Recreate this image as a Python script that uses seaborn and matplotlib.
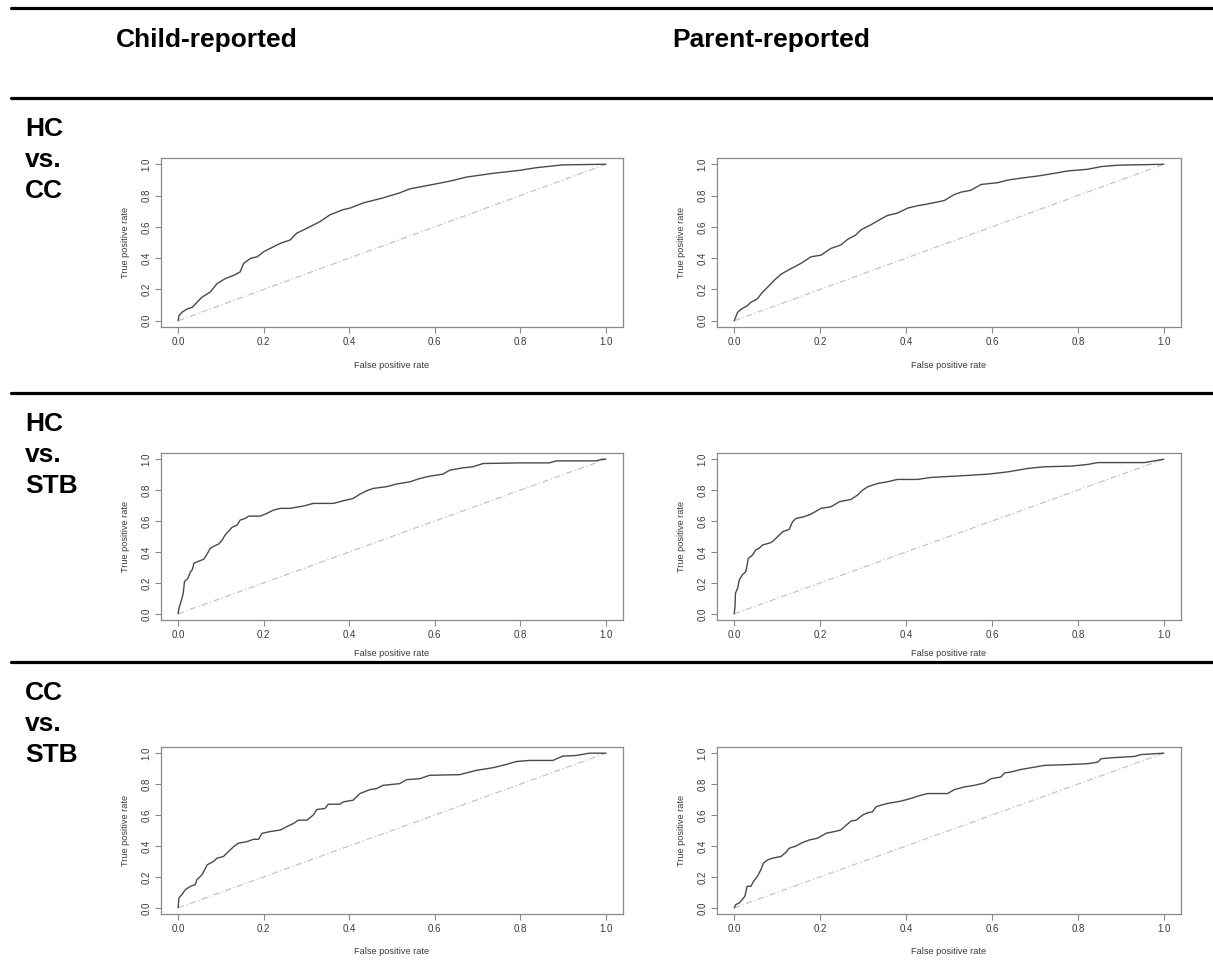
"""
ROC curves: child- vs parent-reported models for three group contrasts.
Saves out.png
"""

import matplotlib
matplotlib.use("Agg")
import matplotlib.pyplot as plt
from matplotlib.lines import Line2D
import seaborn as sns
import pandas as pd

W, H = 1213, 976

COLUMNS = ["Child-reported", "Parent-reported"]
ROWS = [["HC", "vs.", "CC"], ["HC", "vs.", "STB"], ["CC", "vs.", "STB"]]

# ---- ROC points (fpr, tpr) ----
hc_cc_child_fpr = [0, 0.002, 0.009, 0.021, 0.033, 0.044, 0.056, 0.075, 0.091, 0.110, 0.130, 0.145,
                   0.153, 0.169, 0.185, 0.200, 0.215, 0.239, 0.262, 0.277, 0.301, 0.332, 0.355, 0.386,
                   0.402, 0.433, 0.479, 0.518, 0.542, 0.596, 0.635, 0.674, 0.736, 0.798, 0.837, 0.899, 1.0]
hc_cc_child_tpr = [0, 0.032, 0.054, 0.075, 0.086, 0.118, 0.151, 0.183, 0.237, 0.269, 0.290, 0.312,
                   0.366, 0.398, 0.409, 0.441, 0.462, 0.495, 0.516, 0.559, 0.591, 0.634, 0.677, 0.710,
                   0.720, 0.753, 0.785, 0.817, 0.843, 0.871, 0.892, 0.918, 0.942, 0.961, 0.978, 0.996, 1.0]

hc_cc_parent_fpr = [0, 0.008, 0.017, 0.031, 0.039, 0.054, 0.066, 0.078, 0.093, 0.109, 0.132, 0.155,
                    0.179, 0.202, 0.225, 0.248, 0.264, 0.283, 0.295, 0.318, 0.338, 0.357, 0.380, 0.404,
                    0.427, 0.450, 0.489, 0.512, 0.528, 0.551, 0.575, 0.613, 0.637, 0.675, 0.707, 0.745,
                    0.776, 0.823, 0.854, 0.893, 1.0]
hc_cc_parent_tpr = [0, 0.054, 0.075, 0.097, 0.118, 0.140, 0.183, 0.215, 0.258, 0.297, 0.333, 0.366,
                    0.409, 0.419, 0.462, 0.484, 0.520, 0.548, 0.581, 0.613, 0.645, 0.673, 0.688, 0.720,
                    0.735, 0.746, 0.768, 0.806, 0.822, 0.834, 0.871, 0.882, 0.899, 0.914, 0.925, 0.942,
                    0.957, 0.968, 0.985, 0.994, 1.0]

hc_stb_child_fpr = [0, 0.002, 0.007, 0.012, 0.015, 0.023, 0.029, 0.033, 0.037, 0.046, 0.060, 0.064,
                    0.071, 0.075, 0.085, 0.095, 0.103, 0.110, 0.118, 0.126, 0.138, 0.145, 0.157, 0.165,
                    0.192, 0.207, 0.223, 0.239, 0.262, 0.293, 0.316, 0.363, 0.386, 0.409, 0.425, 0.441,
                    0.456, 0.487, 0.510, 0.542, 0.565, 0.588, 0.619, 0.635, 0.666, 0.689, 0.713, 0.798,
                    0.868, 0.884, 0.977, 0.992, 1.0]
hc_stb_child_tpr = [0, 0.037, 0.080, 0.133, 0.209, 0.230, 0.273, 0.284, 0.327, 0.338, 0.353, 0.370,
                    0.402, 0.424, 0.439, 0.452, 0.477, 0.510, 0.535, 0.559, 0.574, 0.606, 0.617, 0.632,
                    0.632, 0.649, 0.671, 0.682, 0.682, 0.697, 0.714, 0.714, 0.731, 0.746, 0.774, 0.796,
                    0.811, 0.822, 0.839, 0.854, 0.875, 0.890, 0.903, 0.929, 0.944, 0.951, 0.972, 0.976,
                    0.976, 0.989, 0.989, 1.0, 1.0]

hc_stb_parent_fpr = [0, 0.002, 0.003, 0.008, 0.012, 0.019, 0.027, 0.033, 0.043, 0.050, 0.058, 0.066,
                     0.085, 0.093, 0.105, 0.113, 0.128, 0.136, 0.144, 0.163, 0.179, 0.202, 0.225, 0.245,
                     0.272, 0.287, 0.299, 0.311, 0.334, 0.357, 0.380, 0.427, 0.458, 0.512, 0.590, 0.637,
                     0.683, 0.722, 0.784, 0.823, 0.846, 0.955, 0.978, 1.0]
hc_stb_parent_tpr = [0, 0.047, 0.133, 0.166, 0.219, 0.252, 0.273, 0.359, 0.381, 0.413, 0.424, 0.445,
                     0.460, 0.477, 0.510, 0.531, 0.546, 0.596, 0.617, 0.628, 0.645, 0.682, 0.692, 0.725,
                     0.740, 0.768, 0.800, 0.822, 0.843, 0.854, 0.869, 0.869, 0.882, 0.890, 0.903, 0.918,
                     0.940, 0.951, 0.955, 0.966, 0.978, 0.978, 0.989, 1.0]

cc_stb_child_fpr = [0, 0.002, 0.009, 0.017, 0.029, 0.040, 0.044, 0.056, 0.068, 0.083, 0.091, 0.106,
                    0.118, 0.130, 0.141, 0.161, 0.176, 0.188, 0.196, 0.215, 0.239, 0.254, 0.270, 0.281,
                    0.301, 0.316, 0.324, 0.343, 0.351, 0.378, 0.386, 0.409, 0.425, 0.448, 0.464, 0.479,
                    0.518, 0.534, 0.565, 0.588, 0.658, 0.697, 0.736, 0.767, 0.790, 0.821, 0.876, 0.899,
                    0.930, 0.961, 1.0]
cc_stb_child_tpr = [0, 0.064, 0.086, 0.118, 0.139, 0.150, 0.182, 0.214, 0.278, 0.300, 0.321, 0.332,
                    0.364, 0.396, 0.418, 0.428, 0.443, 0.443, 0.482, 0.493, 0.503, 0.525, 0.546, 0.567,
                    0.567, 0.600, 0.636, 0.642, 0.670, 0.670, 0.685, 0.696, 0.739, 0.764, 0.771, 0.792,
                    0.803, 0.829, 0.835, 0.857, 0.861, 0.889, 0.906, 0.927, 0.946, 0.953, 0.953, 0.981,
                    0.985, 1.0, 1.0]

cc_stb_parent_fpr = [0, 0.004, 0.012, 0.019, 0.025, 0.030, 0.039, 0.045, 0.054, 0.062, 0.068, 0.078,
                     0.089, 0.109, 0.120, 0.128, 0.144, 0.159, 0.175, 0.194, 0.214, 0.233, 0.248, 0.261,
                     0.272, 0.284, 0.299, 0.311, 0.322, 0.330, 0.342, 0.357, 0.388, 0.411, 0.427, 0.450,
                     0.497, 0.512, 0.536, 0.559, 0.582, 0.598, 0.621, 0.629, 0.644, 0.668, 0.691, 0.722,
                     0.784, 0.823, 0.846, 0.854, 0.877, 0.932, 0.947, 1.0]
cc_stb_parent_tpr = [0, 0.021, 0.032, 0.054, 0.075, 0.139, 0.139, 0.171, 0.203, 0.246, 0.289, 0.310,
                     0.321, 0.332, 0.358, 0.385, 0.400, 0.422, 0.439, 0.450, 0.482, 0.493, 0.503, 0.535,
                     0.561, 0.567, 0.600, 0.615, 0.621, 0.653, 0.664, 0.675, 0.690, 0.707, 0.722, 0.739,
                     0.739, 0.764, 0.782, 0.792, 0.807, 0.835, 0.846, 0.872, 0.878, 0.895, 0.906, 0.921,
                     0.927, 0.932, 0.942, 0.964, 0.970, 0.979, 0.991, 1.0]

CURVES = [
    [(hc_cc_child_fpr, hc_cc_child_tpr), (hc_cc_parent_fpr, hc_cc_parent_tpr)],
    [(hc_stb_child_fpr, hc_stb_child_tpr), (hc_stb_parent_fpr, hc_stb_parent_tpr)],
    [(cc_stb_child_fpr, cc_stb_child_tpr), (cc_stb_parent_fpr, cc_stb_parent_tpr)],
]
TICKS = [0.0, 0.2, 0.4, 0.6, 0.8, 1.0]
TICK_LABELS = ["0.0", "0.2", "0.4", "0.6", "0.8", "1.0"]

# ---- layout in pixels (top-down) ----
COL_LEFT = [161, 717]
COL_WIDTH = [462, 464]
ROW_TOP = [158, 453, 747]
ROW_HEIGHT = [169, 167, 167]
XLABEL_GAP = [38, 34, 38]
RULES_Y = [8, 98, 393, 662]

sns.set_style("white")
plt.rcParams["font.family"] = ["Liberation Sans", "DejaVu Sans"]

fig = plt.figure(figsize=(W / 100, H / 100), dpi=100)

FRAME = "#8a8a8a"
CURVE = "#4a4a4a"
DIAG = "#c4c4c4"
LABEL = "#3a3a3a"

for r in range(3):
    for c in range(2):
        left = COL_LEFT[c] / W
        bottom = 1 - (ROW_TOP[r] + ROW_HEIGHT[r]) / H
        ax = fig.add_axes([left, bottom, COL_WIDTH[c] / W, ROW_HEIGHT[r] / H])

        fpr, tpr = CURVES[r][c]
        df = pd.DataFrame({"fpr": fpr, "tpr": tpr})
        ax.plot([0, 1], [0, 1], color=DIAG, lw=0.9, linestyle=(0, (5, 2, 1, 2)))
        sns.lineplot(data=df, x="fpr", y="tpr", ax=ax, sort=False, estimator=None,
                     color=CURVE, lw=1.0)

        ax.set_xlim(-0.04, 1.04)
        ax.set_ylim(-0.04, 1.04)
        ax.set_xticks(TICKS)
        ax.set_xticklabels(TICK_LABELS)
        ax.set_yticks(TICKS)
        ax.set_yticklabels(TICK_LABELS, rotation=90, va="center")
        ax.tick_params(axis="both", direction="out", length=4, width=0.8, color=FRAME,
                       labelsize=7, labelcolor=LABEL, pad=3, bottom=True, left=True)
        for sp in ax.spines.values():
            sp.set_color(FRAME)
            sp.set_linewidth(0.9)

        ax.set_xlabel("False positive rate", fontsize=6.6, color=LABEL)
        ax.set_ylabel("True positive rate", fontsize=6.6, color=LABEL)
        ax.xaxis.label.set_va("center")
        ax.yaxis.label.set_va("center")
        ax.xaxis.set_label_coords(0.5, -XLABEL_GAP[r] / ROW_HEIGHT[r])
        ax.yaxis.set_label_coords(-36 / COL_WIDTH[c], 0.5)

# horizontal rules
for y in RULES_Y:
    fig.add_artist(Line2D([11 / W, 1.0], [1 - y / H, 1 - y / H], color="black", lw=2.3))

# column headers
HEADER_X = [116, 672]
for name, x in zip(COLUMNS, HEADER_X):
    fig.text(x / W, 1 - 47 / H, name, fontsize=19, fontweight="bold",
             va="baseline", color="black")

# row labels
for r, words in enumerate(ROWS):
    for k, word in enumerate(words):
        y = RULES_Y[r + 1] + 38 + 31 * k
        fig.text(25 / W, 1 - y / H, word, fontsize=19, fontweight="bold",
                 va="baseline", color="black")

fig.savefig("out.png", dpi=100)
print("saved out.png")
